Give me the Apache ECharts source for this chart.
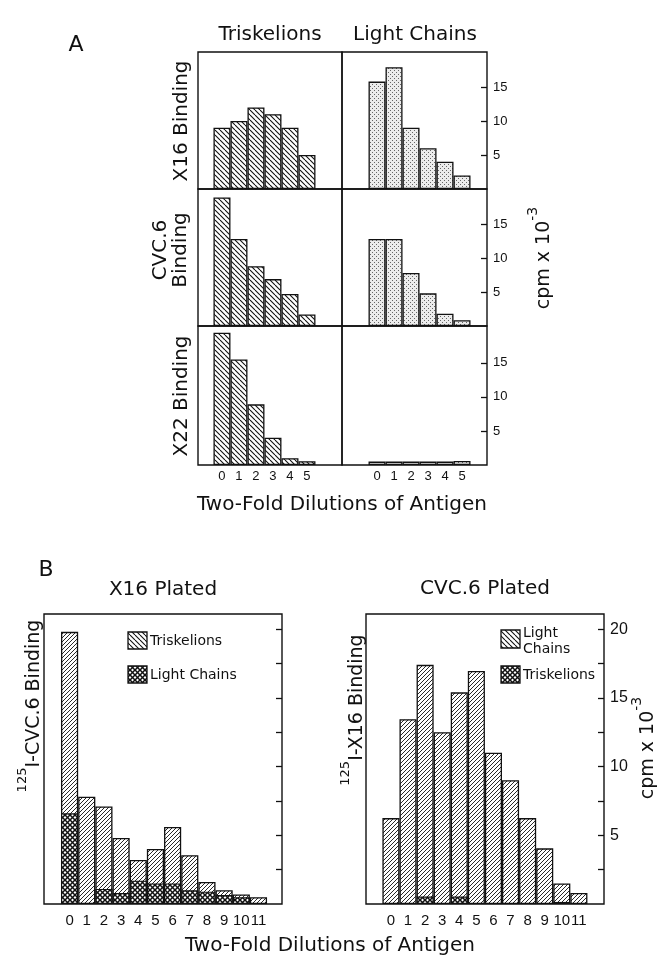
<!DOCTYPE html>
<html><head><meta charset="utf-8">
<script src="https://cdn.jsdelivr.net/npm/echarts@6/dist/echarts.min.js"></script>
<style>html,body{margin:0;padding:0;background:#fff}#c{width:657px;height:959px}</style>
</head><body><div id="c"></div>
<script>
// ---------- DATA ----------
const dilA = [0, 1, 2, 3, 4, 5];
const aX16Tri = [9.0, 10.0, 12.0, 11.0, 9.0, 5.0];
const aX16LC  = [15.8, 17.9, 9.0, 6.0, 4.0, 2.0];
const aCVCTri = [18.9, 12.8, 8.8, 6.9, 4.7, 1.7];
const aCVCLC  = [12.8, 12.8, 7.8, 4.8, 1.8, 0.85];
const aX22Tri = [19.4, 15.5, 8.9, 4.0, 1.0, 0.55];
const aX22LC  = [0.5, 0.5, 0.5, 0.5, 0.5, 0.6];
const aTicks = [5, 10, 15];

const dilB = [0, 1, 2, 3, 4, 5, 6, 7, 8, 9, 10, 11];
const bX16Tri = [19.8, 7.8, 7.1, 4.8, 3.2, 4.0, 5.6, 3.55, 1.6, 1.0, 0.7, 0.5];
const bX16LC  = [6.6, 0, 1.1, 0.8, 1.7, 1.5, 1.5, 1.0, 0.9, 0.65, 0.5, 0];
const bCVCLC  = [6.25, 13.45, 17.4, 12.5, 15.4, 16.95, 11.0, 9.0, 6.25, 4.05, 1.5, 0.8];
const bCVCTri = [0, 0, 0.55, 0, 0.55, 0, 0, 0, 0, 0, 0.15, 0];
const bLabelTicks = [5, 10, 15, 20];
const bMinorTicks = [2.5, 5, 7.5, 10, 12.5, 15, 17.5, 20];

// ---------- PATTERNS ----------
function pat(kind) {
  const c = document.createElement('canvas');
  let s = 5;
  if (kind === 'fwd') s = 4;
  if (kind === 'cross') s = 5;
  if (kind === 'dots') s = 4;
  c.width = s; c.height = s;
  const g = c.getContext('2d');
  g.fillStyle = kind === 'dots' ? '#ececec' : '#fff';
  g.fillRect(0, 0, s, s);
  g.strokeStyle = '#111';
  if (kind === 'dots') {
    g.fillStyle = '#666';
    g.fillRect(0, 0, 1, 1);
    g.fillRect(2, 2, 1, 1);
  } else {
    g.lineWidth = kind === 'cross' ? 1.5 : (kind === 'fwd' ? 0.9 : 1.1);
    for (let k = -1; k <= 1; k++) {
      if (kind === 'back' || kind === 'cross') {
        g.beginPath(); g.moveTo(k * s, 0); g.lineTo(k * s + s, s); g.stroke();
      }
      if (kind === 'fwd' || kind === 'cross') {
        g.beginPath(); g.moveTo(k * s, s); g.lineTo(k * s + s, 0); g.stroke();
      }
    }
  }
  return { image: c, repeat: 'repeat' };
}
const P_BACK = pat('back'), P_FWD = pat('fwd'), P_CROSS = pat('cross'), P_DOTS = pat('dots');

const FONT = 'DejaVu Sans';
const NUM = 'Liberation Sans';
const INK = '#111';

// ---------- LAYOUT ----------
const grids = [], xAxes = [], yAxes = [], series = [];
const aCols = [{ left: 198, width: 144, min: -1.41, max: 7.06 }, { left: 342, width: 145, min: -2.06, max: 6.47 }];
const aRows = [{ top: 52, height: 137 }, { top: 189, height: 137 }, { top: 326, height: 139 }];
const aData = [[aX16Tri, aX16LC], [aCVCTri, aCVCLC], [aX22Tri, aX22LC]];

aRows.forEach((r, ri) => {
  aCols.forEach((c, ci) => {
    const gi = grids.length;
    grids.push({ left: c.left, top: r.top, width: c.width, height: r.height, show: true, borderColor: INK, borderWidth: 1.4 });
    xAxes.push({
      type: 'value', gridIndex: gi, min: c.min, max: c.max,
      axisLine: { show: false, onZero: false }, axisTick: { show: false }, splitLine: { show: false },
      axisLabel: { show: ri === 2, customValues: dilA, margin: 5, fontSize: 13, color: INK, fontFamily: NUM }
    });
    const maxY = ri === 2 ? 20.4 : 20.15;
    yAxes.push({
      type: 'value', gridIndex: gi, min: 0, max: maxY, position: ci === 1 ? 'right' : 'left',
      axisLine: { show: false, onZero: false }, splitLine: { show: false },
      axisTick: { show: ci === 1, inside: true, length: 6, customValues: aTicks, lineStyle: { color: INK, width: 1.3 } },
      axisLabel: { show: ci === 1, customValues: aTicks, margin: 6, fontSize: 13, color: INK, fontFamily: NUM }
    });
    const vals = aData[ri][ci];
    series.push({
      type: 'bar', xAxisIndex: gi, yAxisIndex: gi, barWidth: 17,
      data: dilA.map((d, i) => [d, vals[i]]),
      itemStyle: { color: ci === 0 ? P_BACK : P_DOTS, borderColor: INK, borderWidth: 1.3 },
      silent: true
    });
  });
});

const bGrids = [
  { left: 44, width: 238, min: -1.49, max: 12.37, bw: 17.14, back: bX16Tri, front: bX16LC, labels: false },
  { left: 366, width: 238, min: -1.46, max: 12.47, bw: 17.08, back: bCVCLC, front: bCVCTri, labels: true }
];
bGrids.forEach(b => {
  const gi = grids.length;
  grids.push({ left: b.left, top: 614, width: b.width, height: 290, show: true, borderColor: INK, borderWidth: 1.4 });
  xAxes.push({
    type: 'value', gridIndex: gi, min: b.min, max: b.max,
    axisLine: { show: false, onZero: false }, axisTick: { show: false }, splitLine: { show: false },
    axisLabel: { customValues: dilB, margin: 9, fontSize: 15, color: INK, fontFamily: NUM }
  });
  yAxes.push({
    type: 'value', gridIndex: gi, min: 0, max: 21.1, position: 'right',
    axisLine: { show: false, onZero: false }, splitLine: { show: false },
    axisTick: { inside: true, length: 6, customValues: bMinorTicks, lineStyle: { color: INK, width: 1.3 } },
    axisLabel: { show: b.labels, customValues: bLabelTicks, margin: 6, fontSize: 16, color: INK, fontFamily: NUM }
  });
  series.push({
    type: 'bar', xAxisIndex: gi, yAxisIndex: gi, barWidth: b.bw,
    data: dilB.map((d, i) => [d, b.back[i]]).filter(p => p[1] > 0),
    itemStyle: { color: P_FWD, borderColor: INK, borderWidth: 1.3 }, silent: true
  });
  series.push({
    type: 'bar', xAxisIndex: gi, yAxisIndex: gi, barWidth: b.bw, barGap: '-100%',
    data: dilB.map((d, i) => [d, b.front[i]]).filter(p => p[1] > 0),
    itemStyle: { color: P_CROSS, borderColor: INK, borderWidth: 1.2 }, silent: true
  });
});

// ---------- TEXT ----------
function T(x, y, text, size, rot, extra) {
  return Object.assign({
    type: 'text', x: x, y: y, rotation: rot || 0, silent: true,
    style: { text: text, fontSize: size, fontFamily: FONT, fill: INK, align: 'center', verticalAlign: 'middle' }
  }, extra || {});
}
function sup(x, y, pre, main, post, size, supSize, rot) {
  const e = T(x, y, '', size, rot);
  e.style.text = (pre ? '{s|' + pre + '}' : '') + '{m|' + main + '}' + (post ? '{s|' + post + '}' : '');
  e.style.rich = {
    s: { fontSize: supSize, fontFamily: FONT, fill: INK, verticalAlign: 'top', lineHeight: size + 8 },
    m: { fontSize: size, fontFamily: FONT, fill: INK, verticalAlign: 'bottom', lineHeight: size + 8 }
  };
  return e;
}
const R = Math.PI / 2;
const graphics = [
  T(76, 45, 'A', 22),
  T(270, 35, 'Triskelions', 20),
  T(415, 35, 'Light Chains', 20),
  T(182, 121, 'X16 Binding', 20, R),
  T(171, 250, 'CVC.6\nBinding', 20, R),
  T(182, 396, 'X22 Binding', 20, R),
  sup(540, 258, '', 'cpm x 10', '-3', 19, 14, R),
  T(342, 505, 'Two-Fold Dilutions of Antigen', 20),

  T(46, 570, 'B', 22),
  T(163, 590, 'X16 Plated', 20),
  T(485, 589, 'CVC.6 Plated', 20),
  sup(30, 706, '125', 'I-CVC.6 Binding', '', 19, 13, R),
  sup(353, 710, '125', 'I-X16 Binding', '', 19, 13, R),
  sup(644, 748, '', 'cpm x 10', '-3', 19, 14, R),
  T(330, 946, 'Two-Fold Dilutions of Antigen', 20),

  { type: 'rect', shape: { x: 128, y: 632, width: 19, height: 17 }, style: { fill: P_BACK, stroke: INK, lineWidth: 1.3 }, silent: true },
  { type: 'rect', shape: { x: 128, y: 666, width: 19, height: 17 }, style: { fill: P_CROSS, stroke: INK, lineWidth: 1.3 }, silent: true },
  T(150, 641, 'Triskelions', 14),
  T(150, 675, 'Light Chains', 14),
  { type: 'rect', shape: { x: 501, y: 630, width: 19, height: 18 }, style: { fill: P_BACK, stroke: INK, lineWidth: 1.3 }, silent: true },
  { type: 'rect', shape: { x: 501, y: 666, width: 19, height: 17 }, style: { fill: P_CROSS, stroke: INK, lineWidth: 1.3 }, silent: true },
  T(523, 641, 'Light\nChains', 14),
  T(523, 675, 'Triskelions', 14)
];
graphics.slice(-6).forEach(g => { if (g.type === 'text') g.style.align = 'left'; });
graphics[graphics.length - 2].style.lineHeight = 16;

const chart = echarts.init(document.getElementById('c'), null, { renderer: 'canvas' });
chart.setOption({
  animation: false,
  backgroundColor: '#fff',
  grid: grids, xAxis: xAxes, yAxis: yAxes, series: series,
  graphic: { elements: graphics }
});
</script></body></html>
